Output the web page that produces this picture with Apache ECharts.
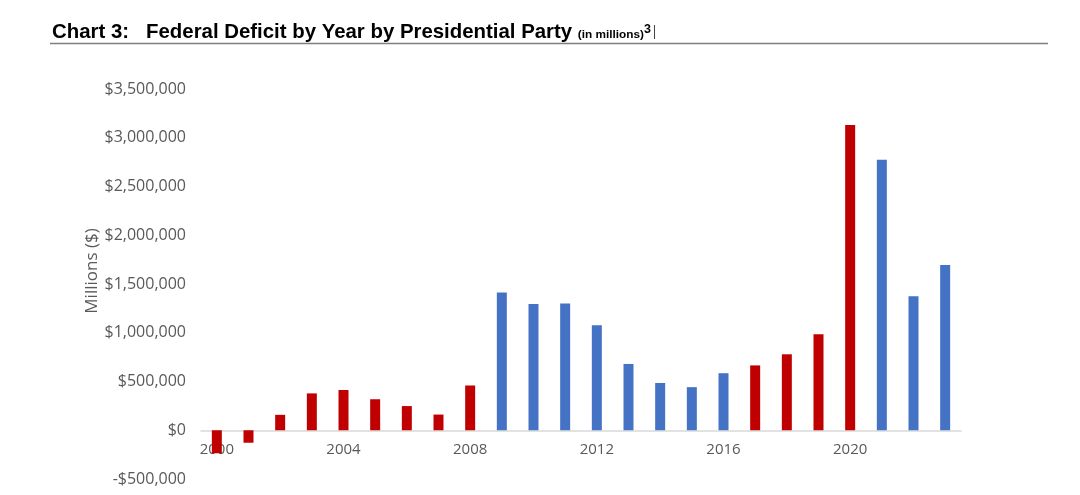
<!DOCTYPE html>
<html lang="en">
<head>
  <meta charset="UTF-8">
  <title>Federal Deficit by Year by Presidential Party</title>
  <style>
    html, body { margin: 0; padding: 0; background: #fff; }
    .box { width: 1080px; height: 495px; }
  </style>
</head>
<body>
  <div class="box"></div>
  <script src="https://cdn.jsdelivr.net/npm/echarts@6/dist/echarts.min.js"></script>
  <script>
    // fiscal years and deficit in millions of dollars (negative = surplus)
    let years = ['2000', '2001', '2002', '2003', '2004', '2005', '2006', '2007', '2008', '2009', '2010', '2011',
      '2012', '2013', '2014', '2015', '2016', '2017', '2018', '2019', '2020', '2021', '2022', '2023']
    let deficits = [-236000, -128000, 158000, 378000, 413000, 318000, 248000, 161000, 459000, 1413000, 1294000, 1300000,
      1077000, 680000, 485000, 442000, 585000, 665000, 779000, 984000, 3132000, 2775000, 1375000, 1695000]
    let parties = ['R', 'R', 'R', 'R', 'R', 'R', 'R', 'R', 'R', 'D', 'D', 'D',
      'D', 'D', 'D', 'D', 'D', 'R', 'R', 'R', 'R', 'D', 'D', 'D']
    let yTicks = [-500000, 0, 500000, 1000000, 1500000, 2000000, 2500000, 3000000, 3500000]

    let partyColor = { R: '#C00000', D: '#4472C4' }
    let labelFont = "'Open Sans', sans-serif"
    let titleFont = "'Liberation Sans', Arial, sans-serif"

    let barData = []
    for (let i = 0; i < deficits.length; i++) {
      barData.push({ value: deficits[i], itemStyle: { color: partyColor[parties[i]] } })
    }

    function money(v) {
      let s = Math.abs(v).toString().replace(/\B(?=(\d{3})+(?!\d))/g, ',')
      return (v < 0 ? '-$' : '$') + s
    }

    // grid spans 89..479 px, so the zero line sits 48 px above the bottom
    let gridTop = 89
    let gridBottom = 16
    let plotH = 495 - gridTop - gridBottom
    let zeroOffset = plotH * (0 - yTicks[0]) / (yTicks[yTicks.length - 1] - yTicks[0])

    let myChart = echarts.init(document.querySelector('.box'))
    let option = {
      animation: false,
      title: {
        left: 52,
        top: 18,
        padding: 0,
        text: '{main|Chart 3:   Federal Deficit by Year by Presidential Party }{small|(in millions)}{sup|3}',
        textStyle: {
          rich: {
            main: { fontFamily: titleFont, fontWeight: 'bold', fontSize: 20.4, color: '#000', verticalAlign: 'bottom', lineHeight: 24 },
            small: { fontFamily: titleFont, fontWeight: 'bold', fontSize: 11.8, color: '#000', verticalAlign: 'bottom', lineHeight: 24, padding: [0, 0, 1, 0] },
            sup: { fontFamily: titleFont, fontWeight: 'bold', fontSize: 12.5, color: '#000', verticalAlign: 'top', lineHeight: 24, padding: [5, 0, 0, 0] }
          }
        }
      },
      graphic: [
        { type: 'line', shape: { x1: 50, y1: 43.5, x2: 1048, y2: 43.5 }, style: { stroke: '#7f7f7f', lineWidth: 1.5 } },
        { type: 'line', shape: { x1: 654.5, y1: 25, x2: 654.5, y2: 39 }, style: { stroke: '#444', lineWidth: 1 } }
      ],
      grid: { left: 201, right: 119, top: gridTop, bottom: gridBottom, containLabel: false, outerBoundsMode: 'none' },
      xAxis: {
        type: 'category',
        data: years,
        position: 'bottom',
        offset: -zeroOffset,
        axisLine: { onZero: false, lineStyle: { color: '#d9d9d9', width: 1.5 } },
        axisTick: { show: false },
        axisLabel: {
          interval: 3,
          color: '#595959',
          fontFamily: labelFont,
          fontSize: 15,
          margin: 12
        }
      },
      yAxis: {
        type: 'value',
        min: yTicks[0],
        max: yTicks[yTicks.length - 1],
        interval: 500000,
        name: 'Millions ($)',
        nameLocation: 'middle',
        nameGap: 100,
        nameMoveOverlap: false,
        nameTextStyle: { color: '#595959', fontFamily: labelFont, fontSize: 17, padding: [0, 0, 0, 26] },
        splitLine: { show: false },
        axisLine: { show: false },
        axisTick: { show: false },
        axisLabel: {
          color: '#595959',
          fontFamily: labelFont,
          fontSize: 16,
          margin: 15,
          formatter: money
        }
      },
      series: [{
        type: 'bar',
        data: barData,
        barWidth: 10
      }]
    }
    myChart.setOption(option)
  </script>
</body>
</html>
